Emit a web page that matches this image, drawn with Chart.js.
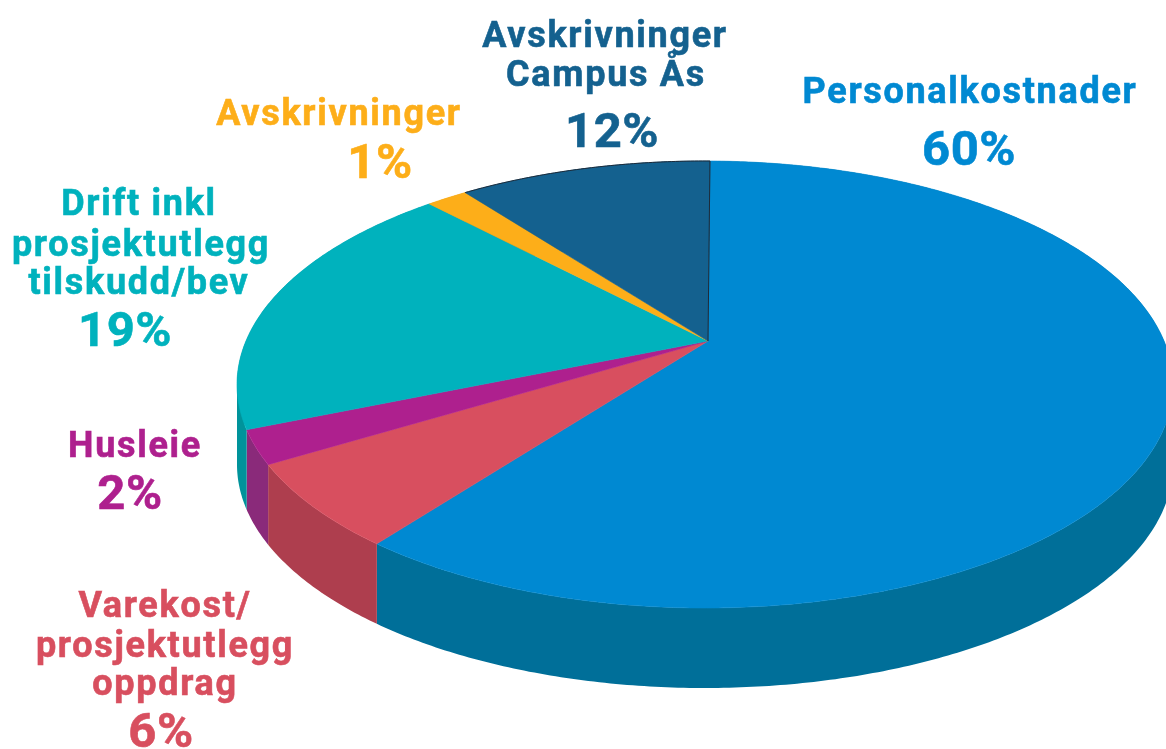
<!DOCTYPE html>
<html>
<head>
<meta charset="utf-8">
<style>
    html, body { margin: 0; padding: 0; background: #fff; overflow: hidden; }
    #wrap { width: 1166px; height: 749px; }
</style>
<script src="https://cdn.jsdelivr.net/npm/chart.js@4/dist/chart.umd.min.js"></script>
</head>
<body>
<div id="wrap"><canvas id="costChart" width="1166" height="749"></canvas></div>
<script>
// Slice data, clockwise from 12 o'clock. Values are read from the slice edges,
// the printed percentages are what the picture says.
const categories = ['Personalkostnader', 'Varekost/ prosjektutlegg oppdrag', 'Husleie',
    'Drift inkl prosjektutlegg tilskudd/bev', 'Avskrivninger', 'Avskrivninger Campus Ås'];
const sliceValues = [60.3, 6.0, 2.4, 19.1, 1.7, 10.5];
const percentLabels = ['60%', '6%', '2%', '19%', '1%', '12%'];
const topColors = ['#0089d2', '#d84f5f', '#ae208e', '#00b2bd', '#fdae19', '#14618f'];
const wallColors = ['#006f99', '#ae3e4e', '#8a2a7a', '#00939b', '#d08f14', '#0f4c70'];
const labelLines = [
    ['Personalkostnader'],
    ['Varekost/', 'prosjektutlegg', 'oppdrag'],
    ['Husleie'],
    ['Drift inkl', 'prosjektutlegg', 'tilskudd/bev'],
    ['Avskrivninger'],
    ['Avskrivninger', 'Campus Ås']
];

// Where the text sits: [center x, baseline y] per line, the percentage last
const labelPlaces = [
    [[970, 103], [969, 165]],
    [[165, 617], [165, 657], [165, 695], [161, 747]],
    [[135, 457], [130, 509]],
    [[139, 215], [141, 256], [139, 294], [125, 346]],
    [[339, 125], [380, 178]],
    [[605, 47], [606, 86], [612, 147]]
];

// Tilted disc: the rim is an ellipse but the apex sits above its center, as in
// a perspective view. The chart angle is shifted onto the rim with a disc map.
const RIM_X = 705, RIM_Y = 384.5, RIM_W = 468, RIM_H = 223.5;
const APEX_X = 708, APEX_Y = 341, DEPTH = 80;
const SHIFT_RE = 0.00323, SHIFT_IM = -0.0983;

function project(angle) {
    const zr = Math.cos(angle), zi = Math.sin(angle);
    // w = (z + q) / (1 + conj(q) z)
    const nr = zr + SHIFT_RE, ni = zi + SHIFT_IM;
    const dr = 1 + SHIFT_RE * zr + SHIFT_IM * zi, di = SHIFT_RE * zi - SHIFT_IM * zr;
    const den = dr * dr + di * di;
    return {
        x: RIM_X + RIM_W * (nr * dr + ni * di) / den,
        y: RIM_Y + RIM_H * (ni * dr - nr * di) / den
    };
}

function rimPoints(from, to) {
    const steps = Math.max(2, Math.ceil((to - from) / 0.01));
    const pts = [];
    for (let i = 0; i <= steps; i++) pts.push(project(from + (to - from) * i / steps));
    return pts;
}

// The wall folds over at the left and right extremes of the rim, one outline
// would leave a notch there, so it is filled in runs going one way in x
function drawWall(ctx, arc, color) {
    const pts = rimPoints(arc.startAngle, arc.endAngle);
    const runs = [[pts[0]]];
    let dir = 0;
    for (let i = 1; i < pts.length; i++) {
        const d = Math.sign(pts[i].x - pts[i - 1].x);
        if (dir && d && d !== dir) runs.push([pts[i - 1]]);
        if (d) dir = d;
        runs[runs.length - 1].push(pts[i]);
    }
    ctx.fillStyle = color;
    runs.forEach(run => {
        ctx.beginPath();
        run.forEach(p => ctx.lineTo(p.x, p.y));
        run.slice().reverse().forEach(p => ctx.lineTo(p.x, p.y + DEPTH));
        ctx.closePath();
        ctx.fill();
    });
}

function drawTop(ctx, arc, color) {
    ctx.beginPath();
    ctx.moveTo(APEX_X, APEX_Y);
    rimPoints(arc.startAngle, arc.endAngle).forEach(p => ctx.lineTo(p.x, p.y));
    ctx.closePath();
    ctx.fillStyle = color;
    ctx.strokeStyle = color;
    ctx.lineWidth = 0.6;
    ctx.fill();
    ctx.stroke();
}

function drawLabels(ctx) {
    ctx.textAlign = 'center';
    ctx.textBaseline = 'alphabetic';
    ctx.lineWidth = 0.6;
    labelLines.forEach((lines, i) => {
        ctx.fillStyle = topColors[i];
        ctx.strokeStyle = topColors[i];
        ctx.font = 'bold 36px Roboto';
        ctx.letterSpacing = '1.7px';
        lines.forEach((line, j) => {
            const [x, y] = labelPlaces[i][j];
            ctx.fillText(line, x, y);
            ctx.strokeText(line, x, y);
        });
        const [px, py] = labelPlaces[i][lines.length];
        ctx.font = 'bold 49px Roboto';
        ctx.letterSpacing = '0.5px';
        ctx.fillText(percentLabels[i], px, py);
        ctx.strokeText(percentLabels[i], px, py);
    });
    ctx.letterSpacing = '0px';
}

// Chart.js has no 3D pie, so the arcs it lays out are drawn through project()
const tiltedPie = {
    id: 'tiltedPie',
    beforeDatasetsDraw(chart) {
        const ctx = chart.ctx;
        const arcs = chart.getDatasetMeta(0).data;
        ctx.save();
        arcs.forEach((arc, i) => drawWall(ctx, arc, wallColors[i]));
        arcs.forEach((arc, i) => drawTop(ctx, arc, topColors[i]));

        // thin dark line along the top slice and its right edge
        const last = arcs[arcs.length - 1];
        ctx.beginPath();
        rimPoints(last.startAngle, last.endAngle).forEach(p => ctx.lineTo(p.x, p.y));
        ctx.lineTo(APEX_X, APEX_Y);
        ctx.strokeStyle = '#1d2b3a';
        ctx.lineWidth = 1;
        ctx.stroke();

        drawLabels(ctx);
        ctx.restore();
        return false;
    }
};

new Chart(document.getElementById('costChart').getContext('2d'), {
    type: 'pie',
    data: {
        labels: categories,
        datasets: [{ data: sliceValues, backgroundColor: topColors, borderWidth: 0 }]
    },
    options: {
        responsive: false,
        animation: false,
        rotation: 0.33,
        plugins: { legend: { display: false }, tooltip: { enabled: false } }
    },
    plugins: [tiltedPie]
});
</script>
</body>
</html>
